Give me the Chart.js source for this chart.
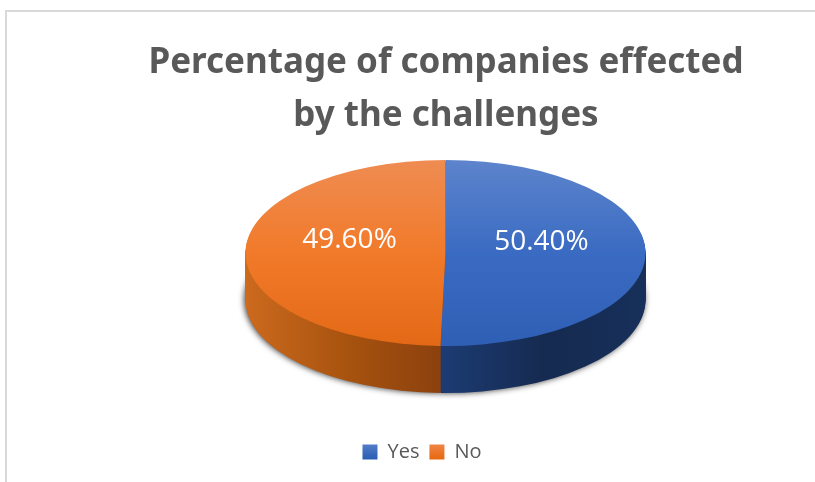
<!DOCTYPE html>
<html>
<head>
<meta charset="utf-8">
<style>
  body { margin: 0; background: #fff; }
  #frame { position: absolute; left: 5px; top: 10px; right: 0; bottom: 0; border-left: 2px solid #d9d9d9; border-top: 2px solid #d9d9d9; }
  canvas { position: absolute; left: 0; top: 0; }
</style>
<script src="https://cdn.jsdelivr.net/npm/chart.js@4"></script>
</head>
<body>
<div id="frame"></div>
<canvas id="chartPie" width="815" height="482"></canvas>
<script>
const categories = ['Yes', 'No'];
const percentages = [50.4, 49.6];
const titleLines = ['Percentage of companies effected', 'by the challenges'];

// where the tilted disc sits on the page
const disc = { x: 445.5, y: 253, rx: 200, ry: 93, depth: 47 };

const topStops = [
  ['#5d84cc', '#3a6bc2', '#2f5fb5'],
  ['#ef8c52', '#f17a2a', '#e36916']
];
const sideStops = [
  ['#1c3b72', '#152a50', '#17305a'],
  ['#8a400e', '#a8530f', '#cc6a1e']
];
const legendStops = [
  ['#5a82cc', '#2d5fb5'],
  ['#f08a4e', '#e96a14']
];

function vertical(ctx, y0, y1, stops) {
  const g = ctx.createLinearGradient(0, y0, 0, y1);
  stops.forEach((c, i) => g.addColorStop(i / (stops.length - 1), c));
  return g;
}

function sideFill(ctx, el, i) {
  const r = el.outerRadius;
  // yes runs left to right from the seam, no runs right to left
  const g = i === 0
    ? ctx.createLinearGradient(el.x, 0, el.x + r, 0)
    : ctx.createLinearGradient(el.x, 0, el.x - r, 0);
  sideStops[i].forEach((c, k) => g.addColorStop(k / 2, c));
  return g;
}

function project(ctx, el) {
  ctx.translate(disc.x, disc.y);
  ctx.scale(disc.rx / el.outerRadius, disc.ry / el.outerRadius);
  ctx.translate(-el.x, -el.y);
}

const tiltPlugin = {
  id: 'tilt',
  afterLayout(chart) {
    // legend in the reference sits left of the title
    chart.legend.left = 29;
  },
  beforeDatasetsDraw(chart) {
    const ctx = chart.ctx;
    const arcs = chart.getDatasetMeta(0).data;
    const sy = disc.ry / arcs[0].outerRadius;
    ctx.save();
    project(ctx, arcs[0]);
    for (let d = disc.depth; d > 0; d--) {
      ctx.save();
      ctx.translate(0, d / sy);
      if (d === disc.depth) {
        ctx.shadowColor = 'rgba(0,0,0,0.8)';
        ctx.shadowBlur = 6;
        ctx.shadowOffsetX = -1;
      }
      arcs.forEach((el, i) => {
        const opts = el.options;
        el.options = Object.assign({}, opts, { backgroundColor: sideFill(ctx, el, i) });
        el.draw(ctx);
        el.options = opts;
      });
      ctx.restore();
    }
  },
  afterDatasetsDraw(chart) {
    const ctx = chart.ctx;
    ctx.restore();
    const arcs = chart.getDatasetMeta(0).data;
    ctx.save();
    ctx.fillStyle = '#fff';
    ctx.font = '28px "Open Sans"';
    ctx.textAlign = 'center';
    ctx.textBaseline = 'middle';
    arcs.forEach((el, i) => {
      const mid = (el.startAngle + el.endAngle) / 2;
      const x = disc.x + Math.cos(mid) * disc.rx * 0.48;
      const y = disc.y + Math.sin(mid) * disc.ry * 0.48 - 12;
      ctx.fillText(percentages[i].toFixed(2) + '%', x, y);
    });
    ctx.restore();
  }
};

const ctxPie = document.getElementById('chartPie');
new Chart(ctxPie, {
  type: 'pie',
  data: {
    labels: categories,
    datasets: [{
      data: percentages,
      borderWidth: 0,
      backgroundColor: function (context) {
        const area = context.chart.chartArea;
        if (!area) return topStops[context.dataIndex][1];
        const r = Math.min(area.right - area.left, area.bottom - area.top) / 2;
        const mid = (area.top + area.bottom) / 2;
        return vertical(context.chart.ctx, mid - r, mid + r, topStops[context.dataIndex]);
      }
    }]
  },
  plugins: [tiltPlugin],
  options: {
    responsive: false,
    animation: false,
    layout: { padding: { left: 77, top: 27, bottom: 10 } },
    plugins: {
      title: {
        display: true,
        text: titleLines,
        color: '#595959',
        font: { family: '"Noto Sans"', size: 35, weight: 'bold', lineHeight: 1.51 },
        padding: { top: 10, bottom: 10 }
      },
      legend: {
        display: true,
        position: 'bottom',
        labels: {
          color: '#595959',
          font: { family: '"Open Sans"', size: 20 },
          boxWidth: 15,
          boxHeight: 15,
          padding: 10,
          generateLabels(chart) {
            const items = Chart.overrides.pie.plugins.legend.labels.generateLabels(chart);
            items.forEach((item, i) => {
              item.fillStyle = vertical(chart.ctx, 442, 458, legendStops[i]);
              item.lineWidth = 0;
            });
            return items;
          }
        }
      },
      tooltip: { enabled: false }
    }
  }
});
</script>
</body>
</html>
